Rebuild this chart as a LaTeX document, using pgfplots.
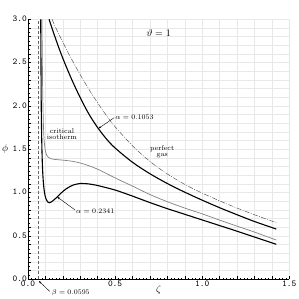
\documentclass[border=0pt]{standalone}
\usepackage{pgfplots}
\pgfplotsset{compat=1.18}
\usetikzlibrary{arrows.meta}
\begin{document}
\begin{tikzpicture}
\useasboundingbox (-28pt,-19.7pt) rectangle (271pt,279.3pt);
\begin{axis}[
  at={(0pt,0pt)}, anchor=south west,
  scale only axis, width=261.3pt, height=260pt,
  xmin=0, xmax=1.5, ymin=0, ymax=3,
  axis lines*=left,
  clip mode=individual,
  xtick={0,0.5,1,1.5}, ytick={0,0.5,...,3},
  minor x tick num=4, minor y tick num=4,
  grid=both,
  major grid style={draw=gray!18, line width=0.5pt},
  minor grid style={draw=gray!18, line width=0.5pt},
  tick align=inside,
  major tick length=3pt, minor tick length=3pt,
  extra x ticks={0.02,0.04,0.06,0.08,0.12,0.14,0.16,0.18,0.22,0.24,0.26,0.28,0.32,0.34,0.36,0.38,0.42,0.44,0.46,0.48,0.52,0.54,0.56,0.58,0.62,0.64,0.66,0.68,0.72,0.74,0.76,0.78,0.82,0.84,0.86,0.88,0.92,0.94,0.96,0.98,1.02,1.04,1.06,1.08,1.12,1.14,1.16,1.18,1.22,1.24,1.26,1.28,1.32,1.34,1.36,1.38,1.42,1.44,1.46,1.48},
  extra x tick labels={},
  extra x tick style={grid=none, major tick length=1.8pt},
  extra y ticks={0.05,0.15,0.25,0.35,0.45,0.55,0.65,0.75,0.85,0.95,1.05,1.15,1.25,1.35,1.45,1.55,1.65,1.75,1.85,1.95,2.05,2.15,2.25,2.35,2.45,2.55,2.65,2.75,2.85,2.95},
  extra y tick labels={},
  extra y tick style={grid=none, major tick length=1.8pt},
  tick style={black, line width=0.4pt},
  tick label style={font=\ttfamily\small},
  /pgf/number format/.cd, fixed, fixed zerofill, precision=1, assume math mode=true,
  /pgfplots/.cd,
  yticklabel style={inner sep=1pt, yshift=0.6pt},
  xticklabel style={inner sep=1.5pt},
  xlabel={$\zeta$}, ylabel={$\phi$},
  xlabel style={inner sep=0pt, yshift=3pt},
  ylabel style={rotate=-90},
  axis line style={black, line width=0.4pt},
]
% beta line
\addplot[gray!80!black, line width=0.6pt, dash pattern=on 3pt off 2pt] coordinates {(0.0595,0) (0.0595,3)};
% perfect gas
\addplot[gray!70!black, line width=0.5pt, dash pattern=on 5pt off 1.5pt on 0.8pt off 1.5pt, smooth] coordinates {
(0.138,3.00) (0.16,2.90) (0.20,2.735) (0.25,2.54) (0.30,2.36) (0.35,2.19) (0.40,2.035) (0.45,1.89) (0.50,1.76) (0.60,1.54) (0.70,1.36) (0.80,1.215) (0.90,1.095) (1.00,0.995) (1.10,0.905) (1.20,0.822) (1.30,0.745) (1.425,0.653)};
% alpha = 0.1053
\addplot[black, line width=1.1pt, smooth] coordinates {
(0.121,3.00) (0.15,2.825) (0.18,2.655) (0.21,2.50) (0.25,2.31) (0.30,2.095) (0.35,1.905) (0.40,1.75) (0.45,1.62) (0.50,1.515) (0.60,1.35) (0.70,1.218) (0.80,1.105) (0.90,1.005) (1.00,0.913) (1.10,0.826) (1.20,0.745) (1.30,0.667) (1.425,0.58)};
% critical isotherm
\addplot[gray, line width=0.7pt, smooth, tension=0.45] coordinates {
(0.080,3.00) (0.082,2.6) (0.084,2.2) (0.087,1.9) (0.090,1.7) (0.094,1.57) (0.100,1.48) (0.108,1.43) (0.118,1.405) (0.135,1.39) (0.16,1.382) (0.20,1.375) (0.25,1.363) (0.30,1.342) (0.35,1.31) (0.40,1.27) (0.50,1.17) (0.60,1.075) (0.70,0.978) (0.80,0.895) (0.90,0.822) (1.00,0.755) (1.10,0.683) (1.20,0.613) (1.30,0.545) (1.425,0.453)};
% alpha = 0.2341
\addplot[black, line width=1.1pt, smooth, tension=0.45] coordinates {
(0.073,3.0) (0.0745,2.5) (0.076,2.0) (0.078,1.7) (0.080,1.5) (0.083,1.3) (0.087,1.15) (0.092,1.04) (0.098,0.965) (0.105,0.92) (0.113,0.893) (0.122,0.884) (0.132,0.89) (0.145,0.91) (0.165,0.945) (0.19,0.995) (0.22,1.045) (0.26,1.088) (0.30,1.105) (0.35,1.10) (0.40,1.082) (0.50,1.03) (0.60,0.96) (0.70,0.885) (0.80,0.815) (0.90,0.75) (1.00,0.685) (1.10,0.62) (1.20,0.555) (1.30,0.488) (1.425,0.404)};
% annotations
\node[anchor=center] at (axis cs:0.75,2.84) {$\vartheta = 1$};
\node[align=center, font=\scriptsize, inner sep=0pt] at (axis cs:0.195,1.68) {critical\\[-2pt]isotherm};
\node[align=center, font=\scriptsize, inner sep=0pt] at (axis cs:0.77,1.47) {perfect\\[-2pt]gas};
\draw[-{Stealth[length=3pt,width=2pt]}, line width=0.4pt] (axis cs:0.495,1.865) -- (axis cs:0.404,1.74);
\node[anchor=west, font=\scriptsize, inner sep=1pt] at (axis cs:0.495,1.875) {$\alpha = 0.1053$};
\draw[-{Stealth[length=3pt,width=2pt]}, line width=0.4pt] (axis cs:0.27,0.80) -- (axis cs:0.168,0.95);
\node[anchor=west, font=\scriptsize, inner sep=1pt] at (axis cs:0.27,0.79) {$\alpha = 0.2341$};
\draw[-{Stealth[length=3pt,width=2pt]}, line width=0.4pt] (axis cs:0.125,-0.14) -- (axis cs:0.062,-0.02);
\node[anchor=west, font=\scriptsize, inner sep=1pt] at (axis cs:0.13,-0.155) {$\beta = 0.0595$};
\end{axis}
\end{tikzpicture}
\end{document}
